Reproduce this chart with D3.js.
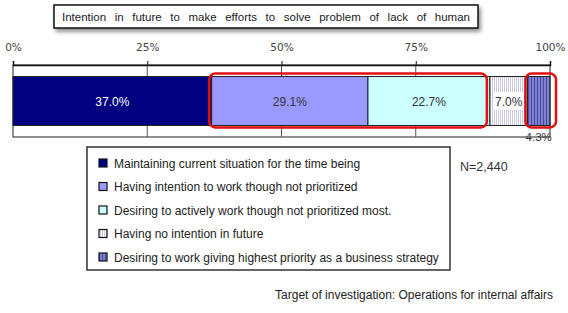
<!DOCTYPE html>
<html>
<head>
<meta charset="utf-8">
<script src="https://cdn.jsdelivr.net/npm/d3@7"></script>
<style>
  body { margin: 0; background: #fff; }
  svg { display: block; font-family: "Liberation Sans", Arial, sans-serif; }
</style>
</head>
<body>
<svg id="chart" width="568" height="313"></svg>
<script>
var title = "Intention in future to make efforts to solve problem of lack of human";
var categories = ["Maintaining current situation for the time being",
  "Having intention to work though not prioritized",
  "Desiring to actively work though not prioritized most.",
  "Having no intention in future",
  "Desiring to work giving highest priority as a business strategy"];
var values = [37.0, 29.1, 22.7, 7.0, 4.3];
var tickValues = [0, 25, 50, 75, 100];
var sampleNote = "N=2,440";
var sourceNote = "Target of investigation: Operations for internal affairs";

var fills = ["#000080", "#9999ff", "#ccffff", "url(#stripeLight)", "url(#stripeBlue)"];
var labelColors = ["#fff", "#333", "#333", "#333", "#333"];

var svg = d3.select("#chart");

// patterns for the two striped segments
var defs = svg.append("defs");
var p1 = defs.append("pattern").attr("id", "stripeLight").attr("patternUnits", "userSpaceOnUse")
  .attr("width", 2).attr("height", 4);
p1.append("rect").attr("width", 2).attr("height", 4).attr("fill", "#fff");
p1.append("rect").attr("width", 1).attr("height", 4).attr("fill", "#c9c9e2");
var p2 = defs.append("pattern").attr("id", "stripeBlue").attr("patternUnits", "userSpaceOnUse")
  .attr("width", 3).attr("height", 4);
p2.append("rect").attr("width", 3).attr("height", 4).attr("fill", "#8080d0");
p2.append("rect").attr("width", 1).attr("height", 4).attr("fill", "#4a4aa0");
var sh = defs.append("filter").attr("id", "shadow").attr("x", "-10%").attr("y", "-50%")
  .attr("width", "120%").attr("height", "220%");
sh.append("feDropShadow").attr("dx", 2).attr("dy", 3).attr("stdDeviation", 2)
  .attr("flood-color", "#000").attr("flood-opacity", 0.45);

// title box
var tb = svg.append("g");
tb.append("rect").attr("x", 54).attr("y", 5).attr("width", 424).attr("height", 23)
  .attr("fill", "#fff").attr("stroke", "#111").attr("stroke-width", 1.5).attr("filter", "url(#shadow)");
var words = title.split(" ");
var wt = tb.selectAll("text.w").data(words).enter().append("text").attr("class", "w")
  .attr("y", 21).attr("font-size", 11.5).attr("fill", "#222").text(function(d) { return d; });
var widths = [];
wt.each(function() { widths.push(this.getComputedTextLength()); });
var totalW = d3.sum(widths);
var left = 62, right = 470;
var gap = (right - left - totalW) / (words.length - 1);
var cx = left;
wt.attr("x", function(d, i) { var v = cx; cx += widths[i] + gap; return v; });

// scales
var x = d3.scaleLinear().domain([0, 100]).range([13, 550]);
var y = d3.scaleBand().domain(["all"]).range([65, 137]).paddingInner(0).paddingOuter(0.235);

// frame + gridlines
svg.append("rect").attr("x", x(0)).attr("y", 65).attr("width", x(100) - x(0)).attr("height", 72)
  .attr("fill", "none").attr("stroke", "#222").attr("stroke-width", 1);
svg.selectAll("line.grid").data([25, 50, 75]).enter().append("line").attr("class", "grid")
  .attr("x1", function(d) { return x(d); }).attr("x2", function(d) { return x(d); })
  .attr("y1", 65).attr("y2", 137).attr("stroke", "#555").attr("stroke-width", 1);

// top axis
var axis = svg.append("g").attr("transform", "translate(0,65)")
  .call(d3.axisTop(x).tickValues(tickValues).tickSize(4).tickFormat(function(d) { return d + "%"; }));
axis.select(".domain").attr("stroke", "#111").attr("stroke-width", 1.5);
axis.selectAll(".tick line").attr("stroke", "#111");
axis.selectAll(".tick text").attr("y", -14).attr("fill", "#444")
  .attr("font-family", "'DejaVu Sans', sans-serif").style("font-size", "10.5px");

// stacked segments
var stack = [];
var acc = 0;
values.forEach(function(v, i) { stack.push({ v: v, x0: acc, x1: acc + v, i: i }); acc += v; });

var bars = svg.append("g");
bars.selectAll("rect").data(stack).enter().append("rect")
  .attr("x", function(d) { return x(d.x0); })
  .attr("y", y("all"))
  .attr("width", function(d) { return Math.min(x(d.x1), x(100)) - x(d.x0); })
  .attr("height", y.bandwidth())
  .attr("fill", function(d) { return fills[d.i]; })
  .attr("stroke", "#222").attr("stroke-width", 1);

// white backing behind 7.0% label
var s3 = stack[3];
bars.append("rect").attr("x", x((s3.x0 + s3.x1) / 2) - 15).attr("y", y("all") + y.bandwidth() / 2 - 9)
  .attr("width", 30).attr("height", 18).attr("fill", "#fff");

bars.selectAll("text").data(stack.slice(0, 4)).enter().append("text")
  .attr("x", function(d) { return x((d.x0 + d.x1) / 2); })
  .attr("y", y("all") + y.bandwidth() / 2 + 4.5)
  .attr("text-anchor", "middle").attr("font-size", 12)
  .attr("fill", function(d) { return labelColors[d.i]; })
  .text(function(d) { return d.v.toFixed(1) + "%"; });

var s4 = stack[4];
svg.append("text").attr("x", x((s4.x0 + 100) / 2)).attr("y", 141)
  .attr("text-anchor", "middle").attr("font-size", 11.5).attr("fill", "#333")
  .text(s4.v.toFixed(1) + "%");

// red highlight boxes
var boxes = [[stack[1].x0, stack[2].x1], [stack[4].x0, 100]];
svg.selectAll("rect.hl").data(boxes).enter().append("rect").attr("class", "hl")
  .attr("x", function(d, i) { return x(d[0]) - (i ? 2 : 2.5); })
  .attr("y", y("all") - 3)
  .attr("width", function(d, i) { return x(d[1]) - x(d[0]) + (i ? 8 : -0.5); })
  .attr("height", y.bandwidth() + 5)
  .attr("rx", 6).attr("fill", "none").attr("stroke", "#e01010").attr("stroke-width", 2.5);

// legend
var lg = svg.append("g");
lg.append("rect").attr("x", 87).attr("y", 147).attr("width", 363).attr("height", 123)
  .attr("fill", "#fff").attr("stroke", "#333").attr("stroke-width", 1.5);
var ly = d3.scalePoint().domain(d3.range(categories.length)).range([163, 257]);
var items = lg.selectAll("g.item").data(categories).enter().append("g").attr("class", "item")
  .attr("transform", function(d, i) { return "translate(0," + ly(i) + ")"; });
items.append("rect").attr("x", 99).attr("y", -4).attr("width", 8).attr("height", 8)
  .attr("fill", function(d, i) { return fills[i]; }).attr("stroke", "#111").attr("stroke-width", 1.2);
items.append("text").attr("x", 114).attr("y", 4.5).attr("font-size", 12).attr("fill", "#222")
  .text(function(d) { return d; });

svg.append("text").attr("x", 460).attr("y", 171).attr("font-size", 12.5).attr("fill", "#333").text(sampleNote);
svg.append("text").attr("x", 553).attr("y", 299).attr("text-anchor", "end")
  .attr("font-size", 12).attr("fill", "#222").text(sourceNote);
</script>
</body>
</html>
